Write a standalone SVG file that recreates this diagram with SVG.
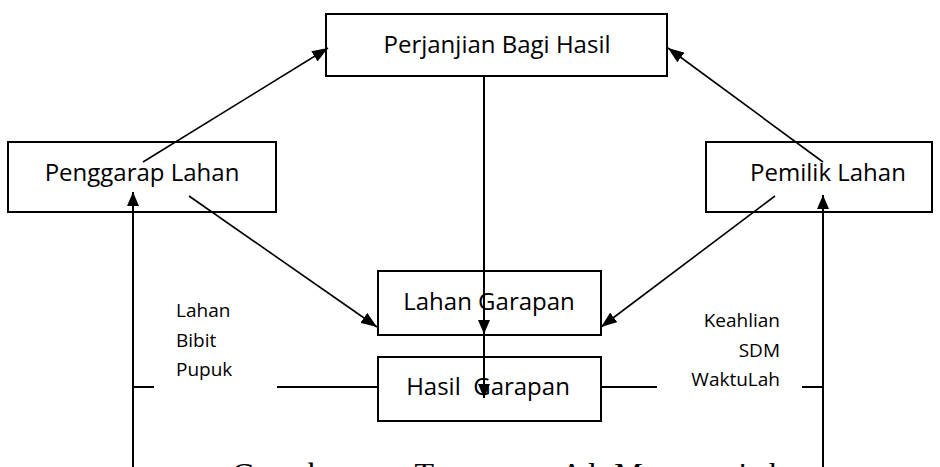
<svg xmlns="http://www.w3.org/2000/svg" width="940" height="467" viewBox="0 0 940 467">
<style>
  .box { fill: #fff; stroke: #000; stroke-width: 2; }
  .lbl { font-family: "Open Sans", "Noto Sans", sans-serif; font-size: 24px; fill: #000; }
  .sm { font-family: "Open Sans", "Noto Sans", sans-serif; font-size: 19px; fill: #000; }
  .ln { stroke: #000; stroke-width: 1.6; fill: none; }
  .vl { stroke: #000; stroke-width: 2; fill: none; }
  .cap { font-family: "Liberation Serif", serif; font-size: 32px; fill: #000; }
</style>
<defs>
  <marker id="ah" markerUnits="userSpaceOnUse" markerWidth="16" markerHeight="12" refX="16" refY="6" orient="auto">
    <path d="M0,0 L16,6 L0,12 z" fill="#000"/>
  </marker>
  <marker id="ahs" markerUnits="userSpaceOnUse" markerWidth="14" markerHeight="12" refX="14" refY="6" orient="auto">
    <path d="M0,0 L14,6 L0,12 z" fill="#000"/>
  </marker>
</defs>

<g id="perjanjian">
  <rect class="box" x="326" y="14" width="341" height="62"/>
  <text class="lbl" x="497" y="53" text-anchor="middle">Perjanjian Bagi Hasil</text>
</g>
<g id="penggarap">
  <rect class="box" x="8" y="142" width="268" height="70"/>
  <text class="lbl" x="142" y="181" text-anchor="middle">Penggarap Lahan</text>
</g>
<g id="pemilik">
  <rect class="box" x="706" y="142" width="226" height="70"/>
  <text class="lbl" x="828" y="181" text-anchor="middle">Pemilik Lahan</text>
</g>
<g id="lahan-garapan">
  <rect class="box" x="378" y="271" width="223" height="64"/>
  <text class="lbl" x="489" y="310" text-anchor="middle">Lahan Garapan</text>
</g>
<g id="hasil-garapan">
  <rect class="box" x="378" y="357" width="223" height="64"/>
  <text class="lbl" x="488" y="395" text-anchor="middle" xml:space="preserve">Hasil  Garapan</text>
</g>

<g id="connectors">
  <line class="ln" x1="143" y1="162" x2="328" y2="48" marker-end="url(#ah)"/>
  <line class="ln" x1="823" y1="162" x2="668" y2="48" marker-end="url(#ah)"/>
  <line class="ln" x1="189" y1="196" x2="377" y2="327" marker-end="url(#ah)"/>
  <line class="ln" x1="775" y1="196" x2="601" y2="327" marker-end="url(#ah)"/>
  <line class="vl" x1="484" y1="76" x2="484" y2="334" marker-end="url(#ahs)"/>
  <line class="vl" x1="484" y1="334" x2="484" y2="398" marker-end="url(#ahs)"/>
  <line class="vl" x1="133" y1="467" x2="133" y2="192" marker-end="url(#ahs)"/>
  <line class="vl" x1="823" y1="467" x2="823" y2="195" marker-end="url(#ahs)"/>
  <line class="vl" x1="133" y1="387" x2="154" y2="387"/>
  <line class="vl" x1="277" y1="387" x2="378" y2="387"/>
  <line class="vl" x1="601" y1="387" x2="657" y2="387" stroke-width="2.5"/>
  <line class="vl" x1="802" y1="387" x2="823" y2="387" stroke-width="2.5"/>
</g>

<g id="labels">
  <text class="sm" x="176" y="317">Lahan</text>
  <text class="sm" x="176" y="347">Bibit</text>
  <text class="sm" x="176" y="376">Pupuk</text>
  <text class="sm" x="780" y="327" text-anchor="end">Keahlian</text>
  <text class="sm" x="780" y="357" text-anchor="end">SDM</text>
  <text class="sm" x="780" y="386" text-anchor="end">WaktuLah</text>
</g>

<text class="cap" x="232" y="485" textLength="553" lengthAdjust="spacing">Gambaran Tentang Al Muzara'ah</text>
</svg>
